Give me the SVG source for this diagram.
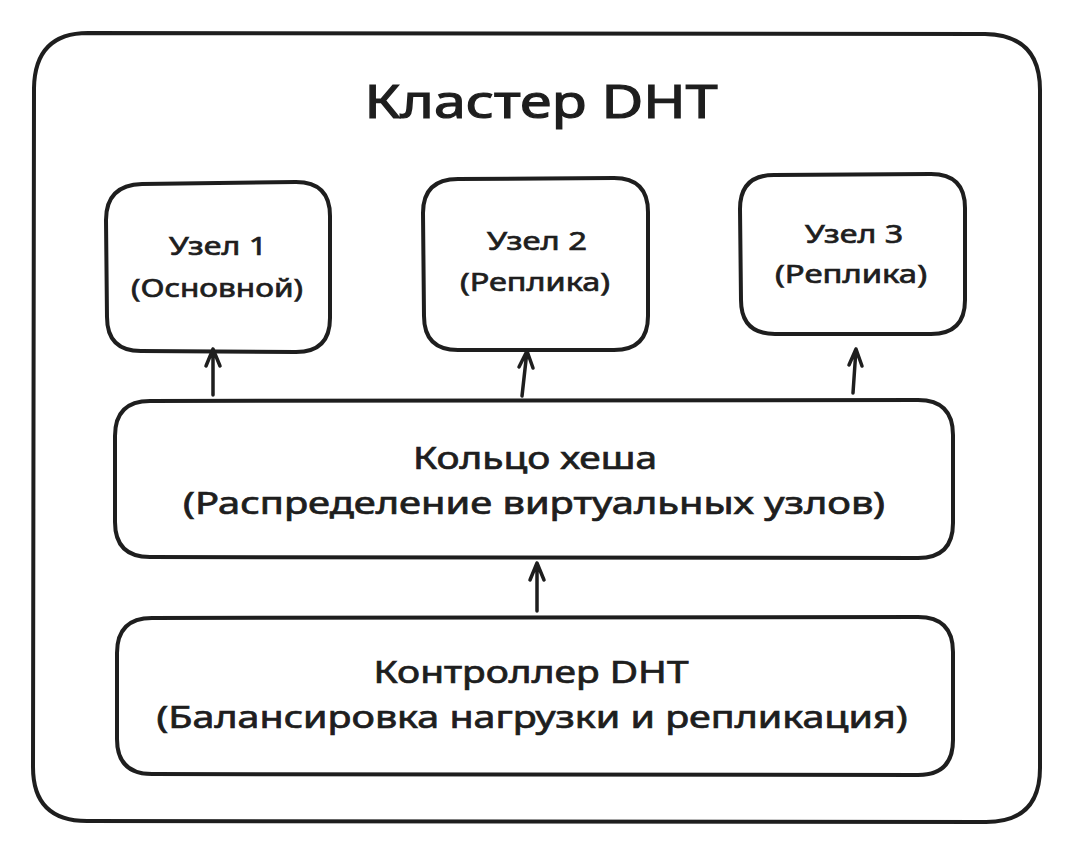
<svg xmlns="http://www.w3.org/2000/svg" width="1072" height="853" viewBox="0 0 1072 853">
  <defs>
    <style>
      .box { fill: #ffffff; stroke: #1e1e1e; stroke-width: 4; stroke-linejoin: round; }
      .outer { fill: #ffffff; stroke: #1e1e1e; stroke-width: 4; }
      .lbl { font-family: "Noto Sans", "DejaVu Sans", sans-serif; fill: #1e1e1e; stroke: #1e1e1e; stroke-width: 0.7; text-anchor: middle; }
      .big { font-size: 30px; }
      .mid { font-size: 26px; }
      .title { font-size: 46px; stroke-width: 1.2; }
      .conn { fill: none; stroke: #1e1e1e; stroke-width: 3.5; stroke-linecap: round; stroke-linejoin: round; }
    </style>
  </defs>
  <rect width="1072" height="853" fill="#ffffff"/>

  <g id="cluster">
    <path class="outer" d="M88 33 L985 34 Q1040 35 1040 90 L1040 768 Q1040 822 986 822 L87 821 Q33 821 33 767 L34 88 Q35 33 88 33 Z"/>
    <text class="lbl title" x="541" y="118" textLength="353" lengthAdjust="spacingAndGlyphs">Кластер DHT</text>
  </g>

  <g id="node1">
    <path class="box" d="M142 184 L296 182 Q330 182 330 216 L330 318 Q330 352 296 352 L141 351 Q107 351 107 317 L106 220 Q106 185 142 184 Z"/>
    <text class="lbl mid" x="218" y="255" textLength="98" lengthAdjust="spacingAndGlyphs">Узел 1</text>
    <text class="lbl mid" x="217" y="297" textLength="172" lengthAdjust="spacingAndGlyphs">(Основной)</text>
  </g>

  <g id="node2">
    <path class="box" d="M458 179 L614 178 Q648 178 648 212 L648 316 Q648 350 614 350 L458 350 Q424 350 424 316 L423 213 Q423 179 458 179 Z"/>
    <text class="lbl mid" x="537" y="250" textLength="100" lengthAdjust="spacingAndGlyphs">Узел 2</text>
    <text class="lbl mid" x="535" y="291" textLength="150" lengthAdjust="spacingAndGlyphs">(Реплика)</text>
  </g>

  <g id="node3">
    <path class="box" d="M774 175 L931 174 Q965 174 965 208 L965 300 Q965 334 931 334 L775 334 Q741 334 741 300 L740 209 Q740 175 774 175 Z"/>
    <text class="lbl mid" x="854" y="243" textLength="98" lengthAdjust="spacingAndGlyphs">Узел 3</text>
    <text class="lbl mid" x="851" y="283" textLength="152" lengthAdjust="spacingAndGlyphs">(Реплика)</text>
  </g>

  <g id="hashring">
    <path class="box" d="M150 401 L918 400 Q953 400 953 435 L953 523 Q953 558 918 558 L150 557 Q115 557 115 522 L115 436 Q115 401 150 401 Z"/>
    <text class="lbl big" x="535" y="469" textLength="244" lengthAdjust="spacingAndGlyphs">Кольцо хеша</text>
    <text class="lbl big" x="534" y="514" textLength="702" lengthAdjust="spacingAndGlyphs">(Распределение виртуальных узлов)</text>
  </g>

  <g id="controller">
    <path class="box" d="M152 618 L918 617 Q953 617 953 652 L953 740 Q953 775 918 775 L152 774 Q117 774 117 739 L117 653 Q117 618 152 618 Z"/>
    <text class="lbl big" x="531" y="683" textLength="315" lengthAdjust="spacingAndGlyphs">Контроллер DHT</text>
    <text class="lbl big" x="532" y="728" textLength="751" lengthAdjust="spacingAndGlyphs">(Балансировка нагрузки и репликация)</text>
  </g>

  <g id="connectors">
    <path class="conn" d="M213 395 L213 349 M206 366 L213 349 L220 366"/>
    <path class="conn" d="M522 396 L527 351 M519 367 L527 351 L533 368"/>
    <path class="conn" d="M853 393 L856 349 M849 365 L856 349 L862 366"/>
    <path class="conn" d="M537 611 L537 563 M530 580 L537 563 L544 580"/>
  </g>
</svg>
